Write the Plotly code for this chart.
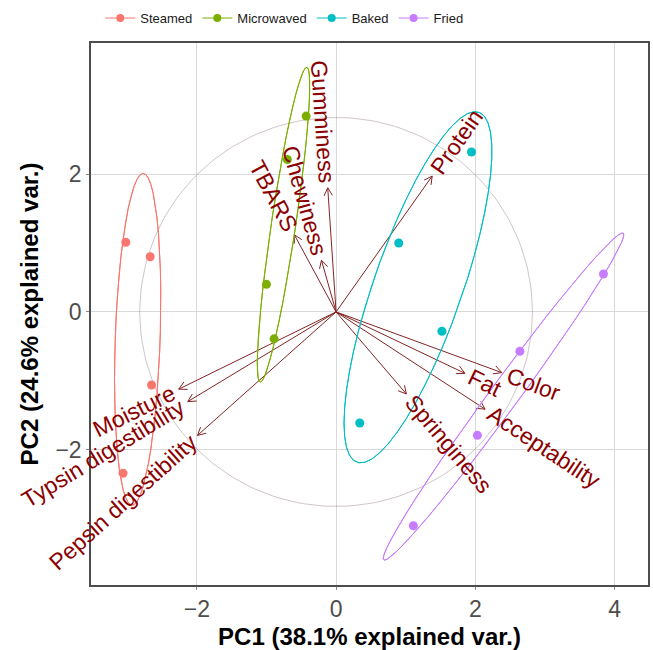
import numpy as np
import plotly.graph_objects as go

# ---------------- data ----------------
groups = ["Steamed", "Microwaved", "Baked", "Fried"]
group_colors = ["#F8766D", "#7CAE00", "#00BFC4", "#C77CFF"]

pc1_steamed = [-3.02, -2.67, -2.65, -3.06]
pc2_steamed = [1.01, 0.80, -1.06, -2.34]
pc1_microwaved = [-0.43, -0.70, -1.00, -0.89]
pc2_microwaved = [2.84, 2.21, 0.40, -0.39]
pc1_baked = [1.945, 0.90, 1.52, 0.34]
pc2_baked = [2.32, 1.00, -0.28, -1.61]
pc1_fried = [3.84, 2.64, 2.03, 1.11]
pc2_fried = [0.55, -0.57, -1.79, -3.10]

variables = ["Gumminess", "Chewiness", "TBARS", "Protein", "Color", "Fat",
             "Acceptability", "Springiness", "Moisture",
             "Typsin digestibility", "Pepsin digestibility"]
load_pc1 = [-0.12, -0.21, -0.60, 1.38, 2.38, 1.85, 2.14, 1.01, -2.26, -2.13, -1.99]
load_pc2 = [1.80, 0.75, 1.12, 1.97, -0.88, -0.89, -1.41, -1.19, -1.12, -1.30, -1.79]

circle_radius = 2.82
ellipse_prob = 0.68

x_range = [-3.52, 4.48]
y_range = [-3.96, 3.90]
x_ticks = [-2, 0, 2, 4]
y_ticks = [-2, 0, 2]
x_title = "PC1 (38.1% explained var.)"
y_title = "PC2 (24.6% explained var.)"

# ---------------- layout geometry ----------------
W, H = 653, 650
ML, MR, MT, MB = 91, 3, 40, 60
pw, ph = W - ML - MR, H - MT - MB
sx = pw / (x_range[1] - x_range[0])
sy = ph / (y_range[1] - y_range[0])

arrow_col = "#832424"
label_col = "#8B0000"
label_size = 23
FONT = "Liberation Sans, Arial, sans-serif"

CW = {' ': 278, 'A': 667, 'B': 667, 'C': 722, 'F': 611, 'G': 778, 'M': 833, 'P': 667,
      'R': 722, 'S': 667, 'T': 611, 'a': 556, 'b': 556, 'c': 500, 'd': 556, 'e': 556,
      'g': 556, 'h': 556, 'i': 222, 'k': 500, 'l': 222, 'm': 833, 'n': 556, 'o': 556,
      'p': 556, 'r': 333, 's': 500, 't': 278, 'u': 556, 'v': 500, 'w': 722, 'x': 500, 'y': 500}


def text_len(s, size):
    return sum(CW.get(c, 556) for c in s) / 1000.0 * size


fig = go.Figure()

# correlation circle
th = np.linspace(0, 2 * np.pi, 200)
fig.add_trace(go.Scatter(x=circle_radius * np.cos(th), y=circle_radius * np.sin(th),
                         mode="lines", line=dict(color="rgba(120,90,100,0.35)", width=1),
                         hoverinfo="skip", showlegend=False))

# arrows
sxs, sys_ = [], []
hx, hy = [], []
L = 9.0
ang = np.deg2rad(28)
for vx, vy in zip(load_pc1, load_pc2):
    sxs += [0, vx, None]
    sys_ += [0, vy, None]
    px, py = vx * sx, vy * sy
    n = np.hypot(px, py)
    dx, dy = px / n, py / n
    for s in (1, -1):
        c, si = np.cos(s * ang), np.sin(s * ang)
        rx, ry = dx * c - dy * si, dx * si + dy * c
        hx += [(px - L * rx) / sx, vx, None]
        hy += [(py - L * ry) / sy, vy, None]
fig.add_trace(go.Scatter(x=sxs, y=sys_, mode="lines", line=dict(color=arrow_col, width=1),
                         hoverinfo="skip", showlegend=False))
fig.add_trace(go.Scatter(x=hx, y=hy, mode="lines", line=dict(color=arrow_col, width=1),
                         hoverinfo="skip", showlegend=False))

# points and ellipses
pcs = [(pc1_steamed, pc2_steamed), (pc1_microwaved, pc2_microwaved),
       (pc1_baked, pc2_baked), (pc1_fried, pc2_fried)]
theta = np.concatenate([np.linspace(-np.pi, np.pi, 50), np.linspace(np.pi, -np.pi, 50)])
circ = np.column_stack([np.cos(theta), np.sin(theta)])
ed = np.sqrt(-2 * np.log(1 - ellipse_prob))
for g, col, (xs, ys) in zip(groups, group_colors, pcs):
    fig.add_trace(go.Scatter(x=xs, y=ys, mode="markers",
                             marker=dict(color=col, size=9), showlegend=False))
    data = np.column_stack([xs, ys])
    sigma = np.cov(data.T)
    R = np.linalg.cholesky(sigma).T
    ell = circ @ R * ed + data.mean(axis=0)
    fig.add_trace(go.Scatter(x=ell[:, 0], y=ell[:, 1], mode="lines",
                             line=dict(color=col, width=1), hoverinfo="skip", showlegend=False))

# legend entries
for g, col in zip(groups, group_colors):
    fig.add_trace(go.Scatter(x=[None], y=[None], mode="lines+markers", name=g,
                             line=dict(color=col, width=1), marker=dict(color=col, size=8)))

# variable labels
gap = 6.0
for name, vx, vy in zip(variables, load_pc1, load_pc2):
    a = np.arctan(vy * sy / (vx * sx))
    tl = text_len(name, label_size)
    off = gap + tl / 2
    sgn = 1 if vx > 0 else -1
    cxp = vx * sx + sgn * off * np.cos(a)
    cyp = vy * sy + sgn * off * np.sin(a)
    fig.add_annotation(x=cxp / sx, y=cyp / sy, text=name, showarrow=False,
                       textangle=-np.rad2deg(a), xanchor="center", yanchor="middle",
                       font=dict(family=FONT, size=label_size, color=label_col))

axis_common = dict(showgrid=True, gridcolor="#D9D9D9", gridwidth=1.2, zeroline=False,
                   showline=True, mirror=True, linecolor="#4D4D4D", linewidth=1.5,
                   ticks="outside", ticklen=3, tickcolor="#8A8A8A",
                   tickfont=dict(family=FONT, size=23, color="#4D4D4D"))

fig.update_layout(
    width=W, height=H,
    margin=dict(l=ML, r=MR, t=MT, b=MB),
    plot_bgcolor="white", paper_bgcolor="white",
    font=dict(family=FONT),
    xaxis=dict(range=x_range, tickvals=x_ticks,
               title=dict(text=x_title, font=dict(family=FONT, size=24, color="black",
                                                   weight="bold"), standoff=8),
               **axis_common),
    yaxis=dict(range=y_range, tickvals=y_ticks,
               title=dict(text=y_title, font=dict(family=FONT, size=24, color="black",
                                                   weight="bold"), standoff=10),
               **axis_common),
    legend=dict(orientation="h", x=0.347, xanchor="center", y=1.046, yanchor="middle",
                font=dict(family=FONT, size=13, color="#1A1A1A"),
                bgcolor="rgba(0,0,0,0)", itemwidth=30, tracegroupgap=0),
    showlegend=True,
)

fig.write_html("out.html")
